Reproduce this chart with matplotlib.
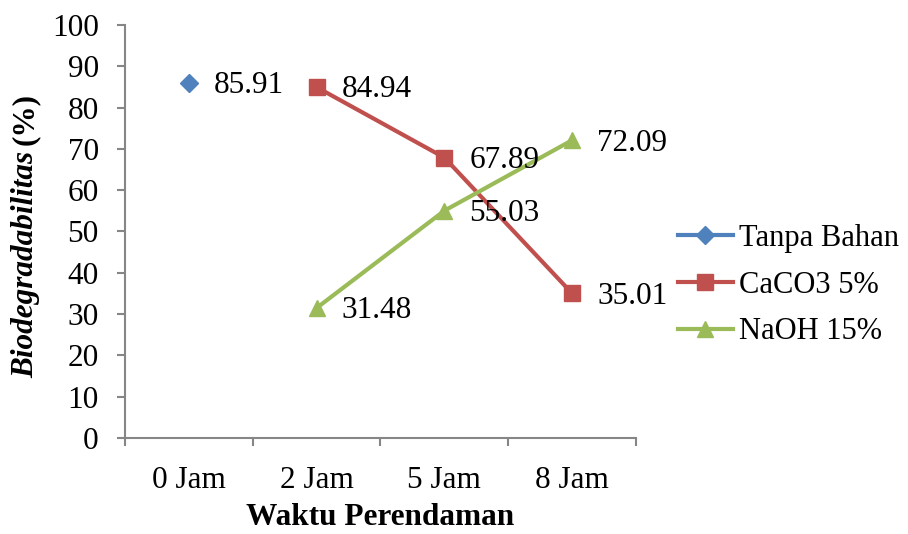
import numpy as np
import matplotlib
matplotlib.use("Agg")
import matplotlib.pyplot as plt

plt.rcParams['font.family'] = ['Liberation Serif', 'DejaVu Serif']

# Data
categories = ['0 Jam', '2 Jam', '5 Jam', '8 Jam']
tanpaBahan = [85.91, np.nan, np.nan, np.nan]
caco3 = [np.nan, 84.94, 67.89, 35.01]
naoh = [np.nan, 31.48, 55.03, 72.09]
seriesNames = ['Tanpa Bahan', 'CaCO3 5%', 'NaOH 15%']

colors = ['#4F81BD', '#C0504D', '#9BBB59']
markers = ['D', 's', '^']
markerSizes = [9.5, 11, 12]
fontSize = 22.5

fig = plt.figure(figsize=(9.08, 5.34), dpi=100)
ax = fig.add_axes([0.1377, 0.1798, 0.5627, 0.7734])

x = np.arange(len(categories))
lines = []
for values, name, color, marker, ms in zip([tanpaBahan, caco3, naoh], seriesNames,
                                            colors, markers, markerSizes):
    line, = ax.plot(x, values, color=color, linewidth=3, marker=marker,
                    markersize=ms, label=name)
    lines.append(line)
    # Data labels to the right of each point
    for xi, v in zip(x, values):
        if not np.isnan(v):
            ax.annotate(f'{v:.2f}', (xi, v), xytext=(18, -2), textcoords='offset points',
                        ha='left', va='center', fontsize=fontSize)

ax.set_xlim(-0.5, len(categories) - 0.5)
ax.set_ylim(0, 100)
ax.set_yticks(np.arange(0, 101, 10))
ax.set_xticks(x)
ax.set_xticklabels(categories)
ax.set_xticks(np.arange(-0.5, len(categories)), minor=True)

ax.tick_params(axis='y', direction='out', length=6, width=1.5, color='#868686',
               labelsize=fontSize, pad=13)
ax.tick_params(axis='x', which='major', length=0, labelsize=fontSize, pad=20)
ax.tick_params(axis='x', which='minor', direction='out', length=6, width=1.5, color='#868686')

for side in ['top', 'right']:
    ax.spines[side].set_visible(False)
for side in ['left', 'bottom']:
    ax.spines[side].set_color('#868686')
    ax.spines[side].set_linewidth(1.5)

ax.set_xlabel('Waktu Perendaman', fontsize=fontSize, fontweight='bold', labelpad=6)

# Y label: italic bold word followed by upright bold "(%)"
yStart = 0.1798 + 0.7734 * 0.5 - 0.275
t1 = fig.text(0.028, yStart, 'Biodegradabilitas', rotation=90, ha='center', va='bottom',
              fontsize=fontSize, fontweight='bold', fontstyle='italic')
fig.canvas.draw()
bb = t1.get_window_extent().transformed(fig.transFigure.inverted())
fig.text(0.028, bb.y1 + 0.012, '(%)', rotation=90, ha='center', va='bottom',
         fontsize=fontSize, fontweight='bold')

fig.legend(handles=lines, loc='center left', bbox_to_anchor=(0.733, 0.466),
           frameon=False, fontsize=22, handlelength=1.8, handletextpad=0.2,
           labelspacing=0.58, borderaxespad=0)

fig.savefig('out.png', dpi=100)
